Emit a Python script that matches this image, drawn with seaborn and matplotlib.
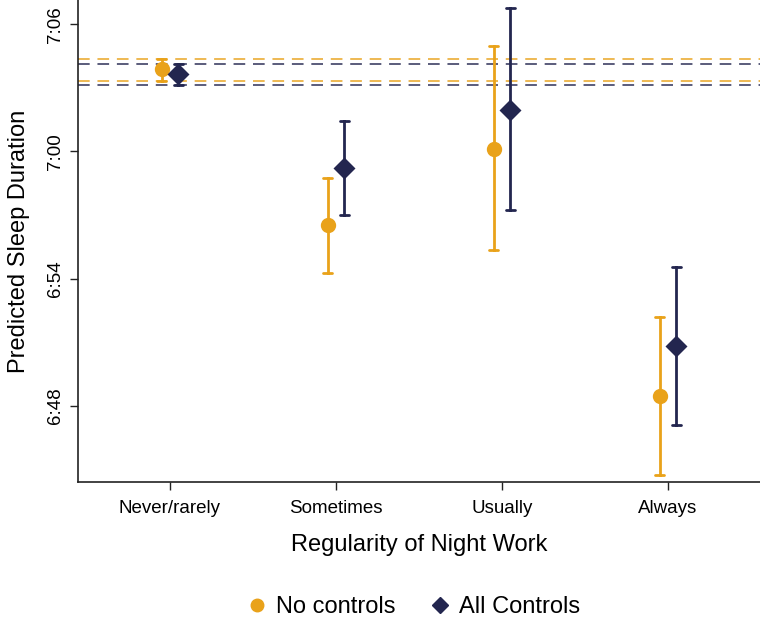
import matplotlib
matplotlib.use("Agg")
import matplotlib.pyplot as plt
from matplotlib.lines import Line2D
from matplotlib.ticker import FuncFormatter, FixedLocator
import numpy as np
import pandas as pd
import seaborn as sns

# predicted sleep duration, in minutes after midnight
categories = ["Never/rarely", "Sometimes", "Usually", "Always"]
models = ["No controls", "All Controls"]

nc_est = [423.87, 416.51, 420.14, 408.46]
nc_lo = [423.35, 414.25, 415.33, 404.75]
nc_hi = [424.35, 418.77, 425.00, 412.20]

ac_est = [423.66, 419.20, 421.98, 410.82]
ac_lo = [423.15, 416.98, 417.22, 407.09]
ac_hi = [424.15, 421.46, 426.75, 414.53]

ytick_vals = [408, 414, 420, 426]

colors = {"No controls": "#E9A21A", "All Controls": "#23264F"}

# long table: low / estimate / high per point -> median + full range gives est and CI
rows = []
for model, est, lo, hi in [("No controls", nc_est, nc_lo, nc_hi),
                           ("All Controls", ac_est, ac_lo, ac_hi)]:
    for cat, e, l, h in zip(categories, est, lo, hi):
        for v in (l, e, h):
            rows.append({"cat": cat, "model": model, "minutes": v})
df = pd.DataFrame(rows)

sns.set_theme(style="ticks")
plt.rcParams["font.family"] = ["Liberation Sans", "DejaVu Sans"]
plt.rcParams["text.color"] = "black"
plt.rcParams["axes.labelcolor"] = "black"
plt.rcParams["xtick.color"] = "black"
plt.rcParams["ytick.color"] = "black"

fig = plt.figure(figsize=(7.6, 6.3), dpi=100)
ax = fig.add_axes([0.1026, 0.235, 0.8974, 0.765])

# reference lines: CI of the baseline category for each model
for lo, hi, m in [(nc_lo[0], nc_hi[0], "No controls"), (ac_lo[0], ac_hi[0], "All Controls")]:
    for v in (lo, hi):
        ax.axhline(v, color=colors[m], ls=(0, (6, 4)), lw=1.4, alpha=0.75, zorder=1)

sns.pointplot(
    data=df, x="cat", y="minutes", hue="model", order=categories, hue_order=models,
    estimator="median", errorbar=("pi", 100), dodge=0.1,
    markers=["o", "D"], linestyles="none", palette=colors,
    capsize=0.055, err_kws={"linewidth": 2}, markersize=9, legend=False, ax=ax,
)

ax.set_xlim(-0.554, 3.554)
ax.set_ylim(404.4, 427.15)
ax.yaxis.set_major_locator(FixedLocator(ytick_vals))
ax.yaxis.set_major_formatter(FuncFormatter(lambda v, p: f"{int(v // 60)}:{int(round(v % 60)):02d}"))
for t in ax.get_yticklabels():
    t.set_rotation(90)
    t.set_va("center")

ax.tick_params(axis="both", direction="out", length=6, width=1, labelsize=13.5, color="#222222")
ax.tick_params(axis="y", pad=4)
ax.tick_params(axis="x", pad=7)
sns.despine(ax=ax)
for s in ("left", "bottom"):
    ax.spines[s].set_linewidth(1.2)
    ax.spines[s].set_color("#222222")

ax.set_xlabel("Regularity of Night Work", fontsize=17, labelpad=12)
ax.set_ylabel("Predicted Sleep Duration", fontsize=17, labelpad=12)

handles = [
    Line2D([], [], marker="o", ls="none", color=colors["No controls"], markersize=9),
    Line2D([], [], marker="D", ls="none", color=colors["All Controls"], markersize=8),
]
fig.legend(handles, models, loc="center", bbox_to_anchor=(0.543, 0.036), ncol=2,
           frameon=False, fontsize=17, handlelength=1.0, handletextpad=0.3,
           columnspacing=1.4)

fig.savefig("out.png", dpi=100)
